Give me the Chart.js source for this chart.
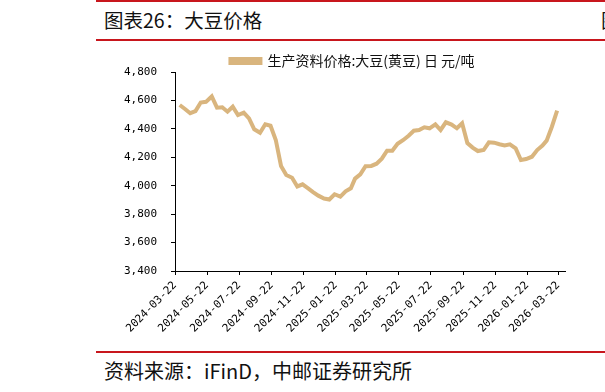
<!DOCTYPE html>
<html>
<head>
<meta charset="utf-8">
<script src="https://cdn.jsdelivr.net/npm/chart.js@4"></script>
<style>
  html, body { margin: 0; padding: 0; background: #fff; }
  body { width: 605px; height: 392px; position: relative; overflow: hidden; font-family: "Noto Sans CJK SC", sans-serif; }
  .rule { position: absolute; left: 96px; right: 0; height: 2px; background: #C8161D; }
  .txt { position: absolute; font-size: 19.5px; line-height: 22px; color: #111; white-space: nowrap; }
  #wrap { position: absolute; left: 96px; top: 45px; width: 509px; height: 305px; }
</style>
</head>
<body>
<div class="rule" style="top:0"></div>
<div class="txt" style="left:104px; top:9px;">图表26：大豆价格</div>
<div class="txt" style="left:601px; top:9px;">图</div>
<div class="rule" style="top:39px"></div>
<div id="wrap"><canvas id="priceChart" width="509" height="305"></canvas></div>
<div class="rule" style="top:351px"></div>
<div class="txt" style="left:104px; top:360px; font-size:20px;">资料来源：iFinD，中邮证券研究所</div>

<script>
// 生产资料价格 大豆(黄豆)，每旬一个值
const dates = [
    "2024-03-31",
    "2024-04-10", "2024-04-20", "2024-04-30",
    "2024-05-10", "2024-05-20", "2024-05-31",
    "2024-06-10", "2024-06-20", "2024-06-30",
    "2024-07-10", "2024-07-20", "2024-07-31",
    "2024-08-10", "2024-08-20", "2024-08-31",
    "2024-09-10", "2024-09-20", "2024-09-30",
    "2024-10-10", "2024-10-20", "2024-10-31",
    "2024-11-10", "2024-11-20", "2024-11-30",
    "2024-12-10", "2024-12-20", "2024-12-31",
    "2025-01-10", "2025-01-20", "2025-01-31",
    "2025-02-10", "2025-02-20", "2025-02-28",
    "2025-03-10", "2025-03-20", "2025-03-31",
    "2025-04-10", "2025-04-20", "2025-04-30",
    "2025-05-10", "2025-05-20", "2025-05-31",
    "2025-06-10", "2025-06-20", "2025-06-30",
    "2025-07-10", "2025-07-20", "2025-07-31",
    "2025-08-10", "2025-08-20", "2025-08-31",
    "2025-09-10", "2025-09-20", "2025-09-30",
    "2025-10-10", "2025-10-20", "2025-10-31",
    "2025-11-10", "2025-11-20", "2025-11-30",
    "2025-12-10", "2025-12-20", "2025-12-31",
    "2026-01-10", "2026-01-20", "2026-01-31",
    "2026-02-10", "2026-02-20", "2026-02-28",
    "2026-03-10", "2026-03-20"
];

const prices = [
    4568, 4540, 4510, 4525, 4585, 4590, 4628, 4549, 4552, 4521,
    4556, 4497, 4514, 4474, 4397, 4373, 4432, 4422, 4322, 4139,
    4075, 4056, 3995, 4010, 3983, 3955, 3930, 3910, 3903, 3940,
    3923, 3960, 3982, 4050, 4080, 4137, 4139, 4155, 4190, 4246,
    4246, 4295, 4322, 4352, 4387, 4392, 4411, 4404, 4432, 4392,
    4446, 4430, 4404, 4439, 4300, 4268, 4244, 4251, 4305, 4303,
    4292, 4283, 4291, 4263, 4181, 4188, 4204, 4251, 4282, 4317,
    4415, 4528
];

const tickLabels = [
    "2024-03-22", "2024-05-22", "2024-07-22", "2024-09-22", "2024-11-22",
    "2025-01-22", "2025-03-22", "2025-05-22", "2025-07-22", "2025-09-22",
    "2025-11-22", "2026-01-22", "2026-03-22"
];

const seriesName = "生产资料价格:大豆(黄豆) 日 元/吨";

// x 轴用距首个刻度的天数
const DAY = 86400000;
const origin = Date.parse(tickLabels[0]);
const toDay = s => Math.round((Date.parse(s) - origin) / DAY);
const tickDays = tickLabels.map(toDay);
const points = dates.map((d, i) => ({ x: toDay(d), y: prices[i] }));

const lineColor = "#D9B57E";
const tickFont = { family: "'DejaVu Sans Mono', monospace", size: 11 };

// 图例位置微调，不动绘图区
const legendShiftX = 22;
const legendShiftY = 6;
const legendNudge = {
    id: "legendNudge",
    afterLayout(chart) {
        const lg = chart.legend;
        lg.top += legendShiftY;
        lg.bottom += legendShiftY;
        lg.left += legendShiftX;
        lg.right += legendShiftX;
    }
};

new Chart(document.getElementById("priceChart"), {
    type: "line",
    data: {
        datasets: [{
            label: seriesName,
            data: points,
            borderColor: lineColor,
            backgroundColor: lineColor,
            borderWidth: 4,
            pointRadius: 0,
            tension: 0
        }]
    },
    options: {
        responsive: false,
        animation: false,
        layout: { padding: { top: 0, right: 40, bottom: 0, left: 0 } },
        plugins: {
            tooltip: { enabled: false },
            legend: {
                position: "top",
                labels: {
                    boxWidth: 30,
                    boxHeight: 4,
                    padding: 3,
                    color: "#111",
                    font: { family: "'Noto Sans CJK SC', sans-serif", size: 14 }
                }
            }
        },
        scales: {
            x: {
                type: "linear",
                min: 0,
                max: 743,
                afterBuildTicks: axis => { axis.ticks = tickDays.map(v => ({ value: v })); },
                afterFit: axis => { axis.height = 79; },
                border: { color: "#000", width: 1 },
                grid: { drawOnChartArea: false, color: "#000", tickLength: 4 },
                ticks: {
                    autoSkip: false,
                    minRotation: 45,
                    maxRotation: 45,
                    padding: 4,
                    color: "#000",
                    font: tickFont,
                    callback: value => tickLabels[tickDays.indexOf(value)]
                }
            },
            y: {
                min: 3400,
                max: 4800,
                afterFit: axis => { axis.width = 79; },
                border: { color: "#000", width: 1 },
                grid: { drawOnChartArea: false, color: "#000", tickLength: 4 },
                ticks: {
                    stepSize: 200,
                    padding: 14,
                    color: "#000",
                    font: tickFont,
                    callback: value => value.toLocaleString("en-US")
                }
            }
        }
    },
    plugins: [legendNudge]
});
</script>
</body>
</html>
